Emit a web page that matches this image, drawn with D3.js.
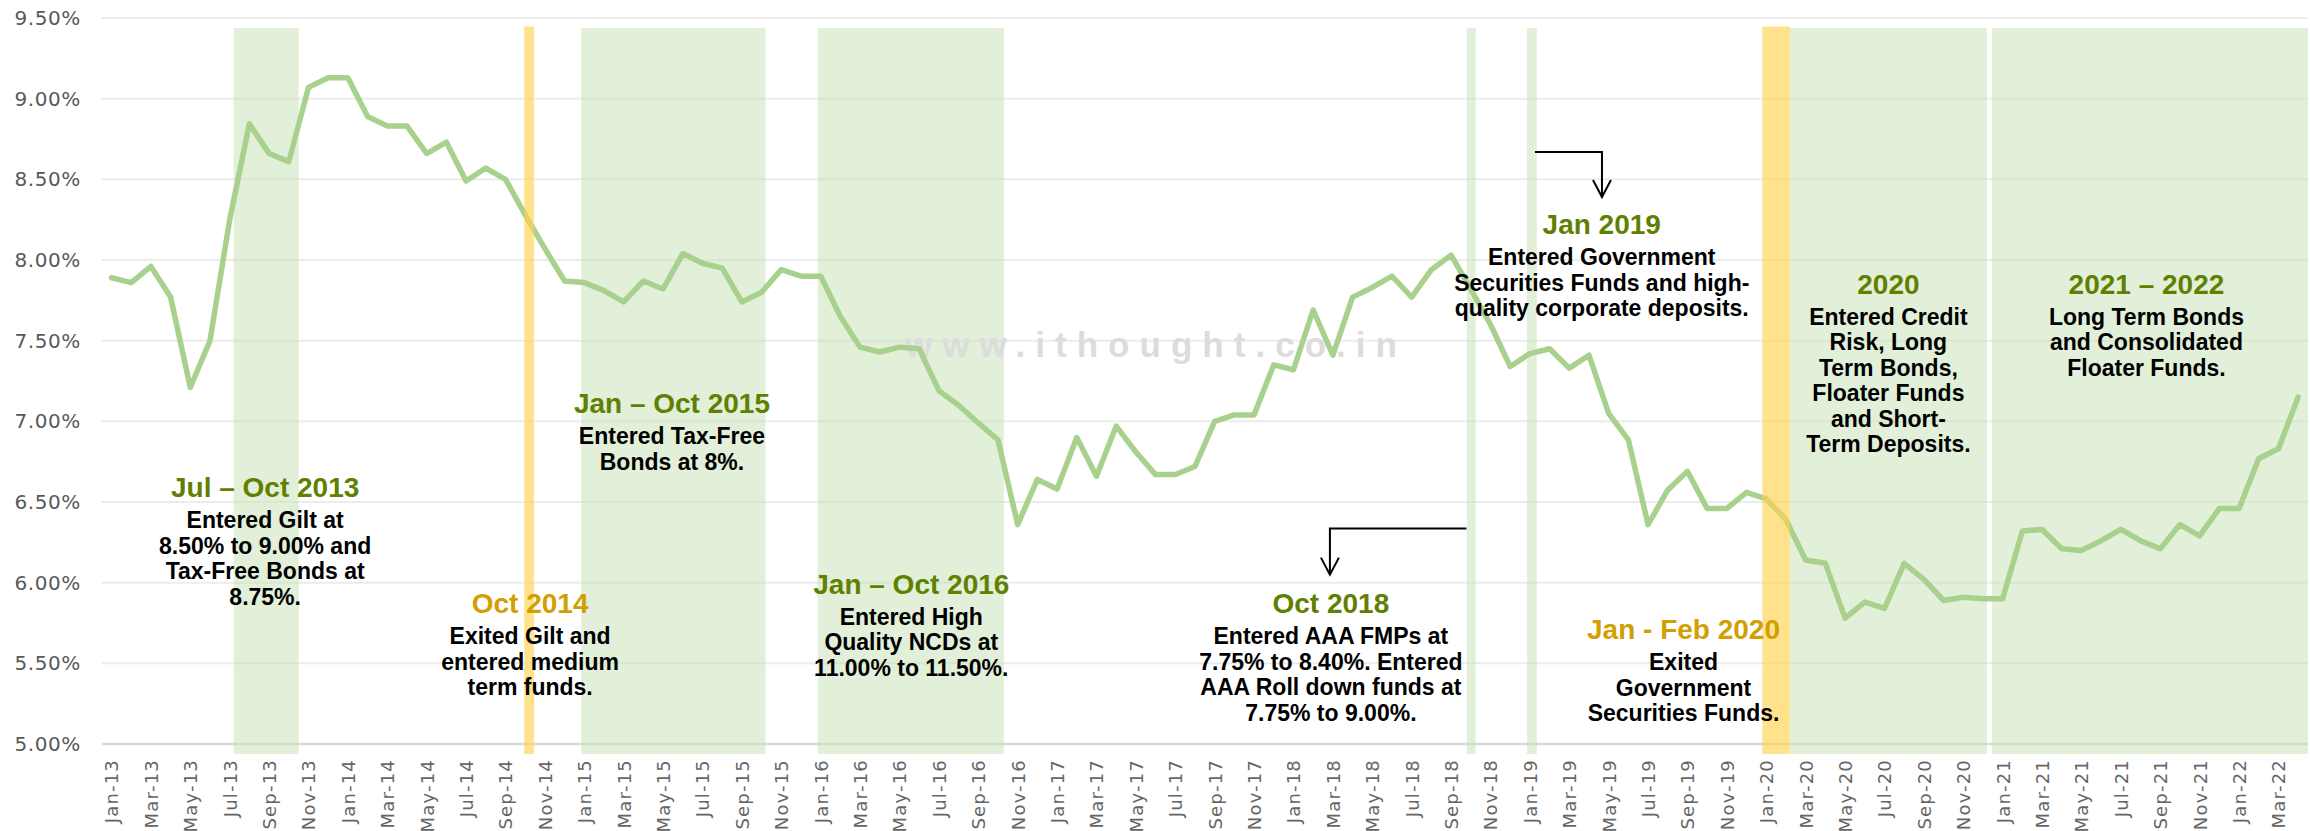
<!DOCTYPE html>
<html>
<head>
<meta charset="utf-8">
<script src="https://cdn.jsdelivr.net/npm/d3@7"></script>
<style>
  body { margin: 0; background: #fff; }
  svg { display: block; }
</style>
</head>
<body>
<svg id="chart" width="2310" height="831"></svg>
<script>
// monthly yield, Jan-13 .. Apr-22
const firstMonth = new Date(2013, 0, 1);
const yields = [
    7.89, 7.86, 7.96, 7.77, 7.21, 7.50, 8.25, 8.845, 8.66, 8.61, 9.07, 9.13,
    9.13, 8.89, 8.83, 8.83, 8.66, 8.73, 8.49, 8.57, 8.50, 8.28, 8.07, 7.87,
    7.86, 7.81, 7.74, 7.87, 7.82, 8.04, 7.98, 7.95, 7.74, 7.80, 7.94, 7.90,
    7.90, 7.65, 7.46, 7.43, 7.46, 7.45, 7.19, 7.10, 6.99, 6.885, 6.36, 6.64,
    6.58, 6.90, 6.66, 6.97, 6.81, 6.67, 6.67, 6.72, 7.00, 7.04, 7.04, 7.35,
    7.32, 7.69, 7.41, 7.77, 7.83, 7.90, 7.77, 7.94, 8.03, 7.82, 7.60, 7.34,
    7.42, 7.45, 7.33, 7.41, 7.05, 6.885, 6.36, 6.575, 6.69, 6.46, 6.46, 6.56,
    6.52, 6.39, 6.14, 6.12, 5.78, 5.88, 5.84, 6.12, 6.02, 5.89, 5.91, 5.90,
    5.90, 6.32, 6.33, 6.21, 6.20, 6.26, 6.33, 6.26, 6.21, 6.36, 6.29, 6.46,
    6.46, 6.77, 6.83, 7.15
];
const months = d3.timeMonth.range(firstMonth, d3.timeMonth.offset(firstMonth, yields.length));
const monthLabels = months.map(d3.timeFormat("%b-%y"));
const yTicks = [5.0, 5.5, 6.0, 6.5, 7.0, 7.5, 8.0, 8.5, 9.0, 9.5];

// shaded periods in month units (0 = Jan-13); "in" = entered, "out" = exited
const shadeStart = [6.2, 20.95, 23.85, 35.85, 68.8, 71.85, 83.8, 85.2, 95.45];
const shadeEnd = [9.5, 21.45, 33.2, 45.3, 69.25, 72.35, 85.2, 95.2, 111.5];
const shadeKind = ["in", "out", "in", "in", "in", "in", "out", "in", "in"];

const noteTitles = ["Jul \u2013 Oct 2013", "Oct 2014", "Jan \u2013 Oct 2015", "Jan \u2013 Oct 2016",
    "Oct 2018", "Jan 2019", "2020", "2021 \u2013 2022", "Jan - Feb 2020"];
const noteKind = ["in", "out", "in", "in", "in", "in", "in", "in", "out"];
const noteLines = [
    ["Entered Gilt at", "8.50% to 9.00% and", "Tax-Free Bonds at", "8.75%."],
    ["Exited Gilt and", "entered medium", "term funds."],
    ["Entered Tax-Free", "Bonds at 8%."],
    ["Entered High", "Quality NCDs at", "11.00% to 11.50%."],
    ["Entered AAA FMPs at", "7.75% to 8.40%. Entered", "AAA Roll down funds at", "7.75% to 9.00%."],
    ["Entered Government", "Securities Funds and high-", "quality corporate deposits."],
    ["Entered Credit", "Risk, Long", "Term Bonds,", "Floater Funds", "and Short-", "Term Deposits."],
    ["Long Term Bonds", "and Consolidated", "Floater Funds."],
    ["Exited", "Government", "Securities Funds."]
];

// layout: where each note sits (month, level of title baseline)
const notePos = [[7.8, 6.53], [21.25, 5.81], [28.45, 7.05], [40.6, 5.93], [61.9, 5.81],
    [75.65, 8.16], [90.2, 7.79], [103.3, 7.79], [79.8, 5.65]];
// elbow arrows: [month, level] points
const arrows = [
    [[68.78, 6.335], [61.85, 6.335], [61.85, 6.05]],
    [[72.26, 8.67], [75.66, 8.67], [75.66, 8.39]]
];

const W = 2310, H = 831;
const svg = d3.select("#chart");
svg.append("rect").attr("width", W).attr("height", H).attr("fill", "#fff");

const x = d3.scaleLinear().domain([-0.5, yields.length - 0.5]).range([101.65, 2308]);
const y = d3.scaleLinear().domain([5, 9.5]).range([744, 18]);

const shadeTop = y(9.5) + 10, shadeBottom = y(5) + 10;

// gridlines
svg.append("g").selectAll("line")
    .data(yTicks)
    .enter()
    .append("line")
    .attr("x1", x.range()[0]).attr("x2", x.range()[1])
    .attr("y1", d => y(d)).attr("y2", d => y(d))
    .attr("stroke", d => d === 5 ? "#d9d9d9" : "#ececec")
    .attr("stroke-width", d => d === 5 ? 2.5 : 2);

// green shading (under the line)
const shades = shadeStart.map((s, i) => ({ s: s, e: shadeEnd[i], kind: shadeKind[i] }));
svg.append("g").selectAll("rect")
    .data(shades.filter(d => d.kind === "in"))
    .enter()
    .append("rect")
    .attr("x", d => x(d.s))
    .attr("width", d => x(d.e) - x(d.s))
    .attr("y", shadeTop)
    .attr("height", shadeBottom - shadeTop)
    .attr("fill", "#c5e0b4")
    .attr("opacity", 0.5);

// watermark
svg.append("text")
    .attr("x", 905).attr("y", 357)
    .attr("textLength", 492).attr("lengthAdjust", "spacing")
    .style("font-family", "'Liberation Sans', Arial, sans-serif")
    .style("font-weight", "bold")
    .style("font-size", "35px")
    .attr("fill", "#dcdcdc")
    .text("www.ithought.co.in");

// yield line
const line = d3.line()
    .x((d, i) => x(i))
    .y(d => y(d));
svg.append("path")
    .datum(yields)
    .attr("d", line)
    .attr("fill", "none")
    .attr("stroke", "#a9d18e")
    .attr("stroke-width", 5.5)
    .attr("stroke-linejoin", "round")
    .attr("stroke-linecap", "round");

// yellow shading sits on top
svg.append("g").selectAll("rect")
    .data(shades.filter(d => d.kind === "out"))
    .enter()
    .append("rect")
    .attr("x", d => x(d.s))
    .attr("width", d => x(d.e) - x(d.s))
    .attr("y", shadeTop - 1.5)
    .attr("height", shadeBottom - shadeTop + 1.5)
    .attr("fill", "#ffd34d")
    .attr("opacity", 0.65);

// axes
const xAxis = d3.axisBottom(x)
    .tickValues(d3.range(0, yields.length, 2))
    .tickFormat(i => monthLabels[i])
    .tickSize(0);
const gx = svg.append("g")
    .attr("transform", `translate(0,${y(5)})`)
    .call(xAxis);
gx.select(".domain").remove();
gx.selectAll("text")
    .attr("transform", "rotate(-90)")
    .attr("text-anchor", "end")
    .attr("x", -15)
    .attr("y", 0)
    .attr("dy", "0.36em")
    .attr("fill", "#666666")
    .style("font-family", "'DejaVu Sans', sans-serif")
    .style("font-size", "18px")
    .style("letter-spacing", "1.2px");

const yAxis = d3.axisLeft(y)
    .tickValues(yTicks)
    .tickFormat(d => d.toFixed(2) + "%")
    .tickSize(0)
    .tickPadding(21);
const gy = svg.append("g")
    .attr("transform", `translate(${x.range()[0]},0)`)
    .call(yAxis);
gy.select(".domain").remove();
gy.selectAll("text")
    .attr("fill", "#595959")
    .style("font-family", "'DejaVu Sans', sans-serif")
    .style("font-size", "20px")
    .style("letter-spacing", "0.5px");

// notes
const notes = svg.append("g")
    .style("font-family", "'Liberation Sans', Arial, sans-serif")
    .style("font-weight", "bold")
    .attr("text-anchor", "middle");
noteTitles.forEach(function (title, i) {
    const cx = x(notePos[i][0]);
    const ty = y(notePos[i][1]);
    notes.append("text")
        .attr("x", cx).attr("y", ty)
        .attr("fill", noteKind[i] === "in" ? "#5f8000" : "#d1a000")
        .style("font-size", "28px")
        .text(title);
    noteLines[i].forEach(function (ln, j) {
        notes.append("text")
            .attr("x", cx).attr("y", ty + 31 + j * 25.5)
            .attr("fill", "#000")
            .style("font-size", "23px")
            .text(ln);
    });
});

// arrows
const arrowLine = d3.line().x(d => x(d[0])).y(d => y(d[1]));
arrows.forEach(function (pts) {
    svg.append("path")
        .attr("d", arrowLine(pts))
        .attr("fill", "none")
        .attr("stroke", "#000")
        .attr("stroke-width", 2);
    const tip = pts[pts.length - 1];
    const tx = x(tip[0]), ty = y(tip[1]);
    svg.append("path")
        .attr("d", `M${tx - 9},${ty - 17}L${tx},${ty}L${tx + 9},${ty - 17}`)
        .attr("fill", "none")
        .attr("stroke", "#000")
        .attr("stroke-width", 2);
});
</script>
</body>
</html>
